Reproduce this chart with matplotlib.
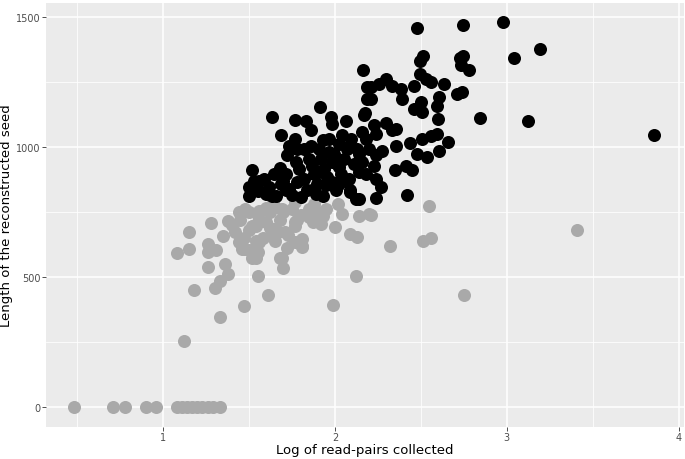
import matplotlib
matplotlib.use("Agg")
import matplotlib.pyplot as plt
from matplotlib.ticker import MultipleLocator

# short seeds (grey) and long seeds (black)
gray_x = [0.48, 0.71, 0.78, 0.90, 0.96, 1.08, 1.11, 1.14, 1.17, 1.20, 1.23, 1.26, 1.29, 1.33,
          1.12, 1.33, 1.47, 1.61, 1.99, 1.18, 1.30, 1.33, 1.38, 1.36, 1.26, 1.55, 1.70, 1.69,
          2.12, 1.08, 1.15, 1.15, 1.28, 1.26, 1.26, 1.35, 1.31, 1.38, 1.44, 1.42, 1.46, 1.52,
          1.55, 1.52, 1.54, 1.64, 1.71, 1.77, 1.81, 1.77, 1.81, 1.92, 2.00, 2.04, 2.02, 2.09,
          2.13, 2.14, 2.20, 2.21, 2.55, 2.32, 2.51, 2.56, 3.41, 2.75, 1.44, 1.50, 1.54, 1.47,
          1.56, 1.54, 1.60, 1.62, 1.56, 1.64, 1.50, 1.68, 1.81, 1.87, 1.85, 1.77, 1.69, 1.77,
          1.64, 1.67, 1.73, 1.64, 1.45, 1.48, 1.55, 1.60, 1.65, 1.70, 1.75, 1.80, 1.85, 1.90,
          1.55, 1.62, 1.58, 1.50, 1.47, 1.68, 1.78, 1.88, 1.65, 1.72, 1.95, 1.40, 1.93]
gray_y = [0, 0, 0, 0, 0, 0, 0, 0, 0, 0, 0, 0, 0, 0,
          253, 347, 390, 432, 391, 451, 456, 486, 512, 550, 537, 503, 533, 572,
          505, 592, 608, 672, 708, 627, 595, 656, 603, 717, 749, 672, 608, 572,
          595, 697, 640, 660, 672, 697, 620, 633, 646, 704, 691, 742, 781, 665,
          655, 736, 742, 740, 772, 620, 640, 650, 682, 432, 633, 603, 575, 608,
          633, 697, 710, 749, 755, 660, 749, 575, 614, 710, 762, 710, 762, 787,
          685, 672, 660, 787, 720, 760, 740, 765, 770, 750, 760, 740, 730, 750,
          710, 690, 650, 680, 650, 720, 720, 780, 640, 610, 760, 700, 735]

black_x = [2.165, 1.911, 1.636, 1.766, 1.830, 1.859, 1.975, 1.984, 2.062, 1.684, 1.930, 2.042,
           1.733, 1.859, 1.723, 1.965, 2.081, 1.520, 1.679, 1.771, 1.781, 1.558, 1.500, 1.500,
           1.616, 1.636, 1.713, 1.800, 1.888, 1.946, 2.004, 2.090, 2.120, 2.023, 1.984, 1.868,
           1.907, 2.140, 2.140, 2.178, 2.169, 2.188, 2.188,
           2.475, 2.746, 2.980, 3.190, 3.041, 3.853, 3.122, 2.841, 2.514, 2.494, 2.727, 2.746,
           2.734, 2.779, 2.494, 2.527, 2.556, 2.634, 2.711, 2.740, 2.605, 2.595, 2.502, 2.459,
           2.382, 2.391, 2.295, 2.256, 2.208, 2.208, 2.333, 2.459, 2.508, 2.599, 2.174, 2.295,
           2.227, 2.333, 2.159, 2.237, 2.353, 2.271, 2.198, 2.436, 2.508, 2.595, 2.556, 2.659,
           2.605, 2.479, 2.537, 2.349, 2.411, 2.450, 2.159, 2.237, 2.178, 2.237, 2.266, 2.227,
           2.417, 2.237, 2.140, 2.353, 2.090,
           1.587, 1.645, 1.686, 1.733, 1.791, 1.820, 1.849, 1.878, 1.895, 1.919, 1.936, 1.953,
           1.994, 2.012, 2.035, 2.052, 2.070, 2.081, 2.110, 2.093, 2.128, 2.023, 1.965, 1.907,
           1.820, 1.779, 1.767, 1.713, 1.55, 1.60, 1.66, 1.75, 1.84, 1.93, 2.00, 2.06, 1.53,
           1.70, 1.88, 1.97, 2.02]
black_y = [1297, 1155, 1114, 1104, 1101, 1067, 1114, 1088, 1101, 1046, 1028, 1046,
           1003, 1005, 968, 980, 1005, 910, 918, 941, 864, 868, 845, 813,
           845, 813, 833, 807, 820, 852, 833, 833, 800, 922, 941, 928,
           903, 903, 973, 1031, 1122, 1185, 1230,
           1456, 1469, 1480, 1377, 1344, 1045, 1099, 1112, 1349, 1332, 1342, 1351,
           1317, 1297, 1281, 1262, 1251, 1241, 1205, 1213, 1193, 1159, 1172, 1236,
           1224, 1185, 1262, 1242, 1230, 1185, 1236, 1147, 1135, 1107, 1131, 1094,
           1085, 1064, 1058, 1050, 1005, 986, 992, 1015, 1031, 1050, 1042, 1018,
           986, 973, 960, 910, 928, 912, 941, 968, 896, 877, 845, 928,
           815, 803, 800, 1069, 826,
           877, 896, 858, 838, 915, 877, 954, 896, 858, 954, 915, 885,
           973, 935, 896, 954, 992, 877, 935, 1031, 992, 1012, 1031, 992,
           992, 992, 1031, 896, 830, 820, 810, 815, 835, 810, 860, 870, 870,
           870, 840, 870, 855]

fig = plt.figure(figsize=(6.85, 4.6), dpi=100)
# panel spans roughly px 46..684 horizontally, 4..428 vertically
ax = fig.add_axes([46 / 685, 32 / 460, 638 / 685, 424 / 460])
ax.set_facecolor("#EBEBEB")
for s in ax.spines.values():
    s.set_visible(False)

ax.scatter(gray_x, gray_y, s=88, color="#A9A9A9", linewidths=0, zorder=3)
ax.scatter(black_x, black_y, s=88, color="black", linewidths=0, zorder=4)

ax.set_xlim(0.32, 4.03)
ax.set_ylim(-77, 1554)
ax.xaxis.set_major_locator(MultipleLocator(1))
ax.xaxis.set_minor_locator(MultipleLocator(0.5))
ax.yaxis.set_major_locator(MultipleLocator(500))
ax.yaxis.set_minor_locator(MultipleLocator(250))
ax.grid(which="major", color="white", linewidth=1.1, zorder=1)
ax.grid(which="minor", color="white", linewidth=0.55, zorder=1)
ax.set_axisbelow(True)
ax.tick_params(which="major", length=2.75, width=0.6, color="#333333",
               labelsize=7, labelcolor="#4D4D4D", pad=1)
ax.tick_params(which="minor", length=0)

ax.set_xlabel("Log of read-pairs collected", fontsize=9.5)
ax.set_ylabel("Length of the reconstructed seed", fontsize=9.5)
ax.xaxis.set_label_coords(0.5, -0.038)
ax.yaxis.set_label_coords(-0.052, 0.5)

fig.savefig("out.png", dpi=100)
